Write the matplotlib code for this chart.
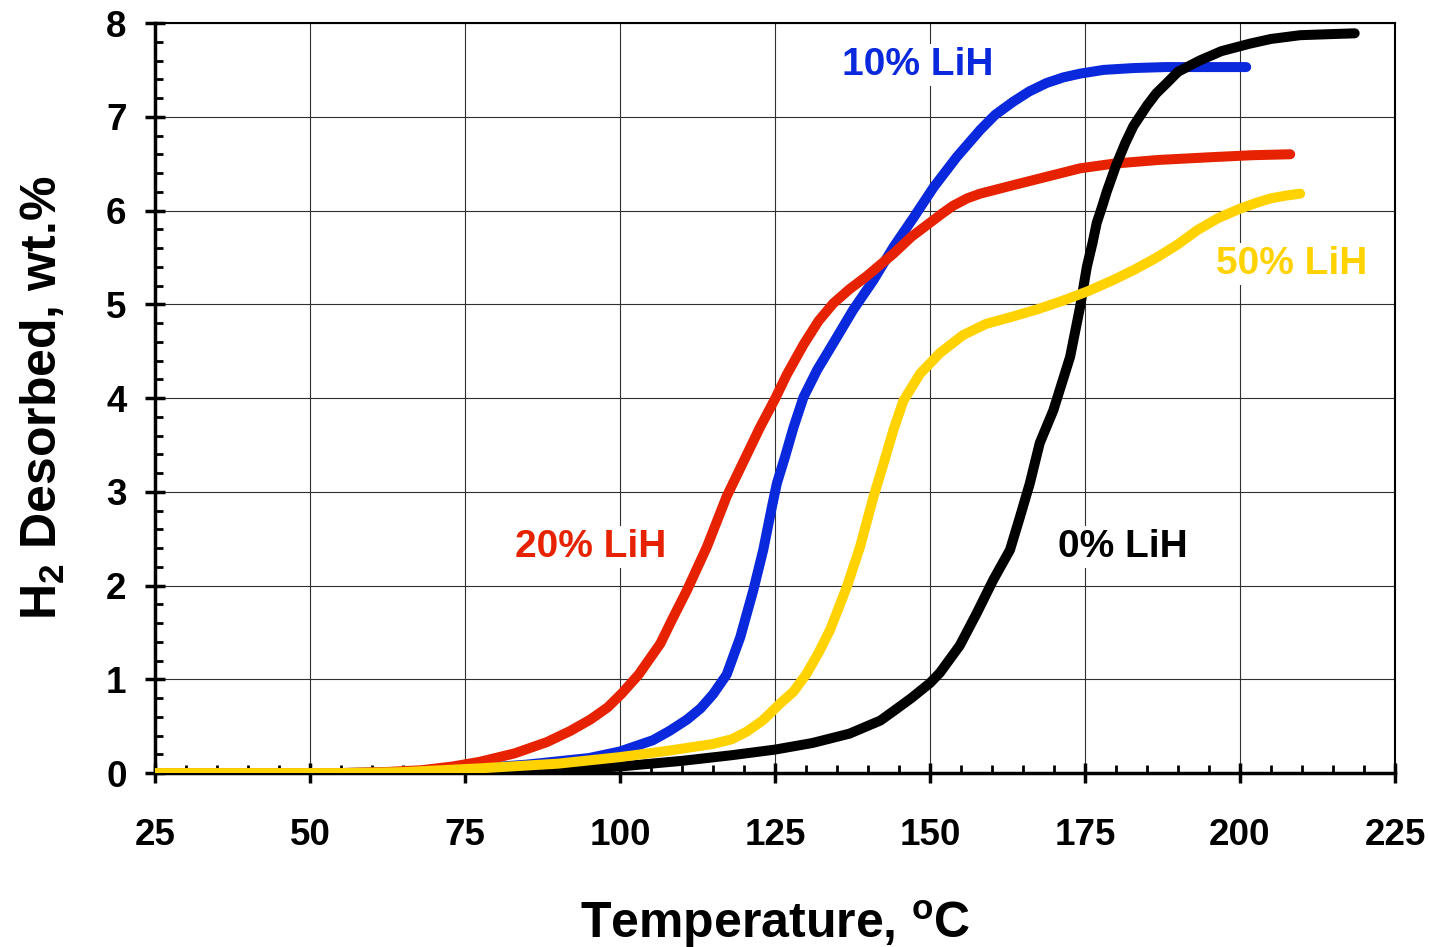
import numpy as np
import matplotlib
matplotlib.use("Agg")
import matplotlib.pyplot as plt

plt.rcParams['font.family'] = ['Liberation Sans', 'DejaVu Sans']
plt.rcParams['font.weight'] = 'bold'
plt.rcParams['axes.labelweight'] = 'bold'
plt.rcParams['mathtext.fontset'] = 'custom'
plt.rcParams['mathtext.rm'] = 'Liberation Sans:bold'
plt.rcParams['mathtext.it'] = 'Liberation Sans:bold'
plt.rcParams['mathtext.bf'] = 'Liberation Sans:bold'
plt.rcParams['mathtext.default'] = 'rm'

# 0% LiH
t0 = [25, 40, 55, 70, 80, 90, 100, 110, 118, 125, 131, 137, 142, 144.1, 147, 150, 151.6,
      154.8, 157.5, 160.2, 162.9, 164.5, 166.1, 167.7, 169.9, 172.6, 174.2, 175.3, 176.2,
      176.9, 177.8, 178.5, 180, 181.5, 182.8, 185, 186.5, 188.2, 190, 193.5, 197, 201.6,
      205, 209.7, 214, 218.5]
h0 = [0, 0, 0, 0.005, 0.01, 0.03, 0.07, 0.13, 0.19, 0.25, 0.32, 0.42, 0.56, 0.66, 0.8,
      0.96, 1.07, 1.36, 1.70, 2.06, 2.38, 2.73, 3.09, 3.52, 3.87, 4.44, 4.97, 5.4, 5.65,
      5.87, 6.05, 6.2, 6.48, 6.72, 6.9, 7.12, 7.25, 7.36, 7.48, 7.6, 7.7, 7.78, 7.83,
      7.87, 7.88, 7.89]

# 10% LiH
t10 = [25, 40, 55, 65, 75, 85, 95, 100, 105.3, 108, 110.8, 113, 115, 117.2, 119.4, 121.5,
       123.1, 124.5, 125.3, 126.6, 128, 129.6, 131.8, 133.9, 137.6, 140.9, 144.1, 147.4,
       150.6, 154.3, 158.1, 160.5, 163.4, 166, 168.8, 171.5, 174.2, 178, 183, 188, 195, 201]
h10 = [0, 0, 0, 0.01, 0.04, 0.09, 0.16, 0.23, 0.35, 0.45, 0.57, 0.69, 0.84, 1.05, 1.45,
       1.95, 2.38, 2.84, 3.09, 3.37, 3.69, 4.01, 4.30, 4.53, 4.94, 5.26, 5.61, 5.93, 6.25,
       6.57, 6.86, 7.02, 7.16, 7.27, 7.36, 7.42, 7.46, 7.5, 7.52, 7.53, 7.53, 7.53]

# 20% LiH
t20 = [25, 40, 55, 62, 68, 73, 77.4, 83, 88.2, 92, 95.2, 98, 100.3, 103, 106.5, 108.5,
       110.8, 114, 117.2, 119.9, 122.6, 125, 126.9, 129.6, 132, 134.4, 137, 139.8, 144.1,
       147, 150, 152, 153.7, 156, 158.1, 163.4, 168.8, 174.2, 179.6, 187, 195.7, 202, 208.1]
h20 = [0, 0, 0, 0.01, 0.03, 0.07, 0.12, 0.21, 0.33, 0.45, 0.57, 0.7, 0.85, 1.05, 1.38,
       1.65, 1.95, 2.41, 2.95, 3.32, 3.69, 3.99, 4.25, 4.57, 4.82, 5.01, 5.16, 5.3, 5.54,
       5.72, 5.87, 5.97, 6.05, 6.13, 6.18, 6.27, 6.36, 6.45, 6.5, 6.54, 6.57, 6.59, 6.6]

# 50% LiH
t50 = [25, 40, 55, 65, 77.4, 90, 100, 108, 115, 118, 120.4, 123, 125.8, 128, 130.1, 132,
       133.9, 136.6, 138.7, 140.9, 142.5, 144.1, 145.7, 148.4, 151.6, 155.3, 159, 163.4,
       167.5, 171.5, 175.5, 179.6, 183, 186.6, 190, 193.1, 196.5, 200, 203, 205, 207.5,
       209.7]
h50 = [0, 0, 0, 0.01, 0.05, 0.1, 0.17, 0.24, 0.31, 0.36, 0.44, 0.56, 0.74, 0.87, 1.06,
       1.28, 1.53, 1.99, 2.41, 2.95, 3.30, 3.66, 3.97, 4.26, 4.48, 4.67, 4.79, 4.87, 4.95,
       5.04, 5.14, 5.26, 5.37, 5.5, 5.64, 5.79, 5.92, 6.02, 6.09, 6.13, 6.16, 6.18]

fig = plt.figure(figsize=(14.29, 9.47), dpi=100)
ax = fig.add_axes([0.1085, 0.1837, 0.8677, 0.792])

lw = 7.2
ax.plot(t10, h10, color='#0A28DC', lw=lw, solid_capstyle='round', solid_joinstyle='round', zorder=3)
ax.plot(t20, h20, color='#E62200', lw=lw, solid_capstyle='round', solid_joinstyle='round', zorder=4)
ax.plot(t0, h0, color='black', lw=lw, solid_capstyle='round', solid_joinstyle='round', zorder=5)
ax.plot(t50, h50, color='#FFD200', lw=lw, solid_capstyle='round', solid_joinstyle='round', zorder=6)

ax.set_xlim(25, 225)
ax.set_ylim(0, 8)
ax.set_xticks(np.arange(25, 226, 25))
ax.set_yticks(np.arange(0, 9, 1))
ax.set_xticks(np.arange(25, 226, 5), minor=True)
ax.set_yticks(np.arange(0, 8.01, 0.2), minor=True)

ax.grid(True, which='major', color='#303030', lw=0.8, zorder=1)
ax.tick_params(which='major', direction='inout', length=15, width=2.5, labelsize=26.5, pad=13)
ax.tick_params(which='minor', direction='in', length=6, width=2)
ax.tick_params(axis='x', which='major', pad=25)

for s in ['left', 'bottom']:
    ax.spines[s].set_linewidth(2.5)
for s in ['top', 'right']:
    ax.spines[s].set_linewidth(1.5)

ax.set_xlabel(r'Temperature, $^{\mathrm{o}}$C', fontsize=36, fontweight='bold', labelpad=32)
ax.set_ylabel(r'H$_2$ Desorbed, wt.%', fontsize=36, fontweight='bold', labelpad=28)

box = dict(facecolor='white', edgecolor='none', pad=2)
ax.text(148.1, 7.55, '10% LiH', color='#0A28DC', fontsize=28, fontweight='bold', ha='center', va='center', bbox=box, zorder=7)
ax.text(95.3, 2.41, '20% LiH', color='#E62200', fontsize=28, fontweight='bold', ha='center', va='center', bbox=box, zorder=7)
ax.text(181.1, 2.41, '0% LiH', color='black', fontsize=28, fontweight='bold', ha='center', va='center', bbox=box, zorder=7)
ax.text(208.4, 5.43, '50% LiH', color='#FFD200', fontsize=28, fontweight='bold', ha='center', va='center', bbox=box, zorder=7)

fig.savefig('out.png', dpi=100)
